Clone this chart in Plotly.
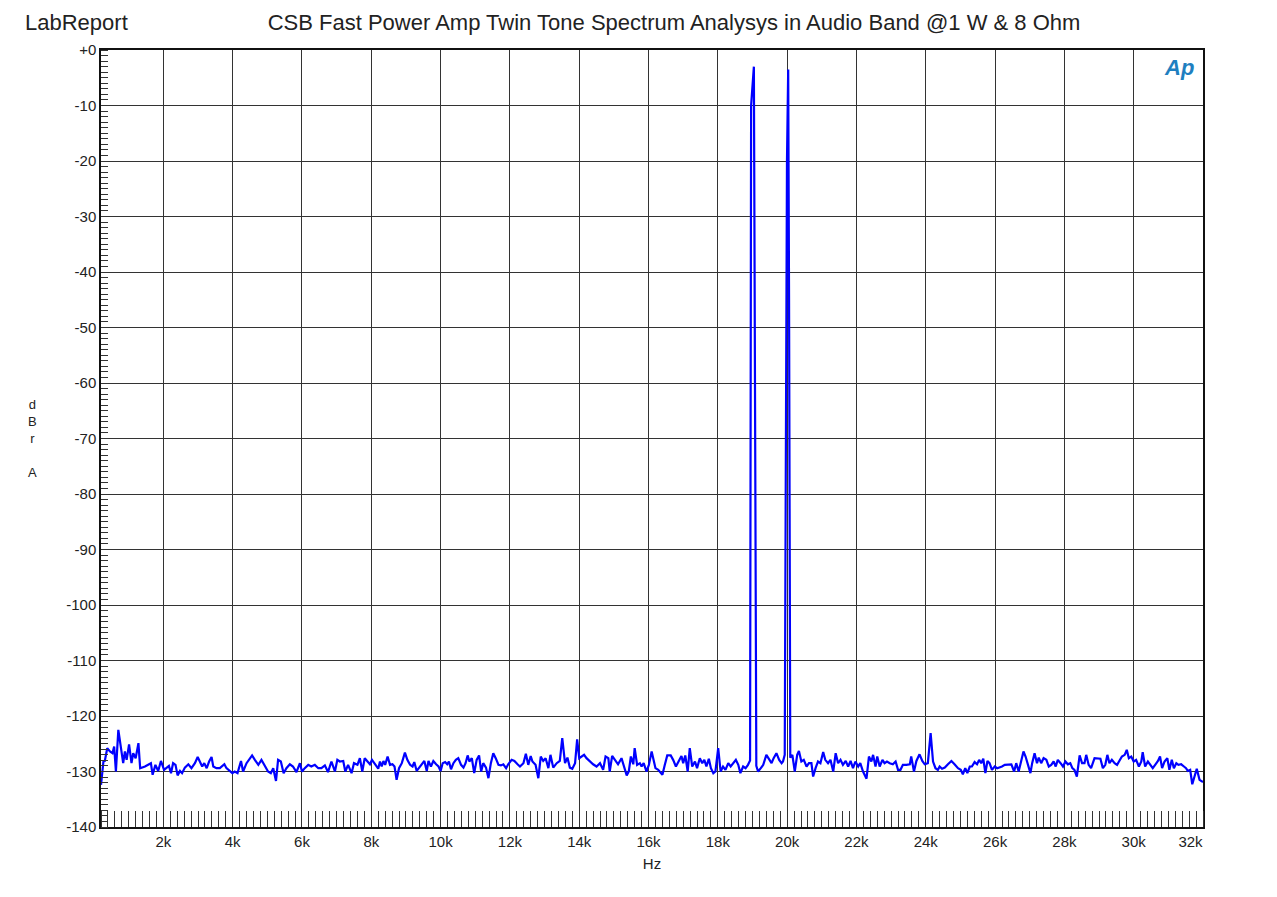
import plotly.graph_objects as go

# noise floor, 200 Hz - 8.2 kHz
band1_hz = [200, 270, 310, 380, 460, 530, 580, 630, 700, 780,
            840, 890, 940, 1010, 1080, 1130, 1200, 1280, 1330, 1470,
            1560, 1640, 1690, 1770, 1850, 1930, 2020, 2090, 2160, 2220,
            2280, 2350, 2410, 2480, 2540, 2620, 2720, 2810, 2910, 2990,
            3050, 3120, 3180, 3250, 3320, 3390, 3440, 3530, 3630, 3760,
            3820, 3920, 3990, 4060, 4140, 4240, 4300, 4400, 4500, 4560,
            4640, 4740, 4830, 4930, 5020, 5100, 5170, 5250, 5310, 5390,
            5470, 5550, 5650, 5740, 5840, 5940, 6000, 6080, 6180, 6270,
            6370, 6470, 6560, 6660, 6750, 6850, 6950, 7020, 7090, 7190,
            7250, 7330, 7430, 7500, 7600, 7670, 7740, 7810, 7890, 7960,
            8020, 8120, 8200]
band1_db = [-132.4, -128.2, -128.1, -125.8, -126.4, -126.7, -125.5, -130.0, -122.5, -125.8,
            -128.5, -126.4, -127.9, -125.1, -128.5, -126.7, -127.6, -124.9, -129.4, -129.1,
            -128.7, -128.5, -130.6, -128.8, -129.9, -128.1, -129.7, -129.4, -129.0, -130.3,
            -128.5, -128.8, -130.7, -129.9, -130.3, -129.3, -128.7, -129.4, -128.5, -127.4,
            -128.2, -129.1, -128.5, -129.4, -128.2, -127.4, -129.1, -129.4, -129.4, -128.7,
            -129.4, -130.0, -130.3, -130.0, -130.3, -128.1, -130.0, -128.5, -127.5, -127.1,
            -127.9, -128.8, -127.9, -129.1, -130.0, -130.3, -129.4, -131.7, -127.9, -128.2,
            -130.3, -129.4, -128.7, -129.1, -130.1, -128.5, -130.0, -129.4, -128.8, -129.1,
            -128.8, -129.4, -129.4, -128.9, -130.1, -128.2, -130.0, -127.9, -128.2, -128.1,
            -130.0, -128.8, -130.3, -128.5, -128.8, -127.6, -130.0, -127.6, -128.1, -128.7,
            -127.9, -128.8, -129.5]

# noise floor, 8.2 kHz - 16.1 kHz
band2_hz = [8250, 8300, 8350, 8400, 8470, 8540, 8610, 8670, 8730, 8800,
            8880, 8970, 9040, 9120, 9190, 9240, 9310, 9380, 9450, 9530,
            9600, 9650, 9720, 9790, 9870, 9940, 10000, 10060, 10130, 10190,
            10240, 10300, 10370, 10440, 10510, 10590, 10660, 10720, 10780, 10830,
            10900, 10970, 11040, 11110, 11170, 11230, 11310, 11380, 11450, 11520,
            11590, 11670, 11740, 11810, 11890, 11950, 12050, 12130, 12220, 12290,
            12390, 12460, 12530, 12600, 12650, 12740, 12820, 12890, 12960, 13030,
            13110, 13170, 13250, 13350, 13440, 13510, 13590, 13660, 13730, 13800,
            13880, 13940, 14000, 14070, 14140, 14210, 14310, 14400, 14500, 14600,
            14690, 14760, 14840, 14880, 14950, 15030, 15120, 15220, 15300, 15370,
            15430, 15490, 15560, 15600, 15670, 15750, 15800, 15860, 15940, 16010,
            16090]
band2_db = [-128.2, -129.1, -128.1, -128.8, -127.3, -128.8, -128.7, -129.1, -131.5, -129.4,
            -128.5, -126.6, -127.9, -128.8, -129.1, -128.3, -129.9, -129.3, -128.7, -128.1,
            -129.9, -128.1, -129.1, -128.1, -128.7, -129.1, -129.9, -128.5, -128.3, -128.7,
            -128.2, -129.6, -128.5, -127.9, -127.6, -128.8, -129.3, -128.5, -127.1, -128.2,
            -127.6, -130.3, -127.9, -127.1, -130.0, -128.5, -129.3, -131.2, -128.5, -126.7,
            -127.6, -128.8, -128.9, -128.7, -129.4, -128.7, -127.9, -128.1, -128.7, -129.1,
            -128.5, -126.8, -128.8, -127.2, -128.2, -128.8, -131.2, -127.3, -128.1, -127.6,
            -129.4, -127.0, -129.3, -128.5, -128.1, -124.0, -128.5, -127.5, -129.3, -129.5,
            -128.5, -124.2, -127.6, -127.3, -127.0, -127.6, -128.2, -128.7, -129.1, -128.5,
            -129.7, -127.3, -127.6, -130.0, -127.2, -127.9, -128.7, -127.6, -129.1, -130.7,
            -130.0, -127.3, -128.7, -125.8, -128.8, -128.5, -129.1, -128.5, -130.0, -128.8,
            -126.4]

# noise floor up to the first tone
band3_hz = [16200, 16280, 16330, 16400, 16470, 16540, 16640, 16710, 16790, 16880,
            16950, 17000, 17060, 17130, 17190, 17260, 17340, 17400, 17480, 17550,
            17610, 17670, 17740, 17800, 17870, 17930, 18010, 18080, 18150, 18220,
            18300, 18370, 18440, 18520, 18590, 18650, 18730, 18800, 18870]
band3_db = [-129.4, -129.7, -130.0, -130.6, -128.8, -127.1, -127.1, -127.9, -129.1, -127.9,
            -127.2, -128.5, -127.1, -130.0, -125.8, -129.1, -128.2, -129.4, -127.6, -128.5,
            -127.9, -129.1, -127.7, -129.4, -130.3, -130.0, -125.8, -130.0, -129.1, -129.7,
            -128.5, -129.1, -128.5, -127.9, -128.8, -130.3, -129.1, -129.4, -128.8]

# 19 kHz tone
tone1_hz = [18930, 18960, 19040, 19110]
tone1_db = [-128.0, -10.0, -3.0, -129.0]

# between the tones
band4_hz = [19160, 19240, 19310, 19400, 19470, 19550, 19610, 19690, 19770, 19840, 19880]
band4_db = [-130.0, -129.4, -128.8, -127.0, -127.6, -128.5, -127.6, -126.7, -127.9, -128.5, -128.2]

# 20 kHz tone
tone2_hz = [19930, 19995, 20030, 20055, 20090]
tone2_db = [-127.0, -20.0, -3.5, -45.0, -127.5]

# noise floor, 20.1 kHz - 24.1 kHz
band5_hz = [20150, 20220, 20290, 20340, 20410, 20480, 20560, 20630, 20700, 20750,
            20820, 20890, 20960, 21040, 21100, 21180, 21250, 21330, 21400, 21470,
            21540, 21610, 21690, 21760, 21830, 21900, 21970, 22050, 22110, 22190,
            22290, 22360, 22430, 22480, 22550, 22600, 22670, 22750, 22810, 22880,
            22960, 23050, 23130, 23200, 23270, 23340, 23440, 23540, 23580, 23660,
            23730, 23820, 23900, 23970, 24060]
band5_db = [-127.0, -130.0, -127.0, -126.3, -128.2, -127.9, -129.1, -128.5, -128.5, -130.9,
            -129.4, -128.2, -128.5, -126.5, -127.9, -128.5, -127.9, -130.0, -126.7, -128.5,
            -127.9, -128.8, -128.1, -129.1, -128.1, -129.4, -128.2, -129.1, -128.5, -130.0,
            -131.3, -127.3, -128.2, -127.0, -129.1, -127.3, -129.1, -127.9, -128.5, -128.2,
            -128.5, -128.7, -128.2, -129.7, -129.7, -128.8, -128.8, -128.7, -127.3, -130.0,
            -128.1, -126.9, -128.1, -128.7, -128.5]

# noise floor, 24.1 kHz - 32 kHz
band6_hz = [24140, 24210, 24280, 24350, 24400, 24470, 24550, 24640, 24740, 24830,
            24930, 25010, 25070, 25140, 25200, 25270, 25330, 25410, 25480, 25540,
            25600, 25660, 25720, 25780, 25840, 25910, 25990, 26060, 26130, 26200,
            26280, 26370, 26470, 26550, 26610, 26680, 26760, 26820, 26880, 26950,
            27020, 27070, 27140, 27210, 27260, 27330, 27400, 27480, 27550, 27620,
            27690, 27750, 27810, 27890, 27960, 28030, 28100, 28170, 28230, 28290,
            28360, 28440, 28510, 28580, 28630, 28700, 28770, 28870, 28970, 29040,
            29110, 29180, 29240, 29300, 29370, 29450, 29520, 29590, 29660, 29740,
            29800, 29860, 29930, 30000, 30070, 30150, 30220, 30260, 30330, 30410,
            30480, 30550, 30630, 30700, 30760, 30820, 30890, 30970, 31030, 31100,
            31160, 31230, 31290, 31370, 31450, 31510, 31560, 31630, 31690, 31750,
            31820, 31900, 31960, 32000]
band6_db = [-123.1, -128.2, -129.4, -129.7, -129.1, -129.5, -129.3, -128.7, -128.1, -128.7,
            -129.4, -129.7, -130.5, -129.4, -130.3, -129.1, -129.1, -128.3, -128.7, -127.9,
            -128.5, -127.7, -130.3, -128.1, -128.5, -129.7, -129.1, -129.4, -129.3, -129.1,
            -128.8, -128.7, -128.7, -130.0, -128.5, -130.0, -127.7, -126.4, -127.3, -128.8,
            -130.3, -128.5, -126.7, -128.5, -127.5, -128.5, -127.6, -127.9, -129.1, -128.8,
            -128.2, -129.1, -127.9, -128.5, -129.1, -128.2, -128.7, -128.5, -129.4, -129.7,
            -130.9, -127.1, -128.5, -128.5, -127.0, -128.8, -129.4, -127.6, -127.6, -127.7,
            -129.4, -128.8, -127.0, -128.5, -127.9, -128.5, -128.8, -127.9, -127.3, -127.0,
            -126.1, -127.6, -127.3, -128.2, -127.9, -129.1, -128.2, -126.5, -129.1, -128.2,
            -128.7, -129.4, -128.7, -128.1, -127.3, -129.4, -128.2, -127.6, -129.7, -127.9,
            -129.4, -128.5, -128.8, -128.7, -129.1, -129.4, -129.9, -129.7, -132.3, -130.9,
            -129.5, -131.5, -131.8, -131.9]

y_ticks = list(range(0, -141, -10))
y_labels = ["+0"] + [str(v) for v in y_ticks[1:]]
x_ticks = list(range(2000, 32001, 2000))
x_labels = [f"{v // 1000}k" for v in x_ticks]
x_labels[-1] = "32k" + "\u00a0" * 6   # AP pulls the edge label inside

parts = [(band1_hz, band1_db), (band2_hz, band2_db), (band3_hz, band3_db),
         (tone1_hz, tone1_db), (band4_hz, band4_db), (tone2_hz, tone2_db),
         (band5_hz, band5_db), (band6_hz, band6_db)]
freq, level = [], []
for hz, db in parts:
    assert len(hz) == len(db), (hz[0], len(hz), len(db))
    freq += hz
    level += db

FONT = "Arial, Liberation Sans, sans-serif"

# page body has an 8px margin, so the figure is a bit smaller than the window
fig = go.Figure()
fig.add_trace(go.Scatter(x=freq, y=level, mode="lines",
                         line=dict(color="#0000ff", width=2.2)))

fig.update_layout(
    width=1269, height=889,
    margin=dict(l=93, r=74, t=42, b=70),
    paper_bgcolor="white", plot_bgcolor="white",
    showlegend=False,
    font=dict(family=FONT, size=15, color="#222"),
    title=dict(text="CSB Fast Power Amp Twin Tone Spectrum Analysys in Audio Band @1 W & 8 Ohm",
               x=666 / 1269, xref="container", xanchor="center",
               y=1 - 14 / 889, yref="container", yanchor="middle",
               font=dict(family=FONT, size=22, color="#222")),
)

fig.update_xaxes(
    range=[200, 32000], tickmode="array", tickvals=x_ticks, ticktext=x_labels,
    showgrid=True, gridcolor="#333", gridwidth=1.2,
    showline=True, linecolor="#111", linewidth=1.5, mirror=True,
    ticks="", zeroline=False,
    minor=dict(tickmode="linear", tick0=0, dtick=200, ticks="inside",
               ticklen=16, tickwidth=1.2, tickcolor="#333", showgrid=False),
    title=dict(text="Hz", standoff=10, font=dict(size=15)),
)
fig.update_yaxes(
    range=[-140, 0], tickmode="array", tickvals=y_ticks, ticktext=y_labels,
    showgrid=True, gridcolor="#333", gridwidth=1.2,
    showline=True, linecolor="#111", linewidth=1.5, mirror=True,
    ticks="", zeroline=False,
    minor=dict(tickmode="linear", tick0=0, dtick=1, ticks="inside",
               ticklen=7, tickwidth=1.2, tickcolor="#333", showgrid=False),
)

fig.add_annotation(text="LabReport", xref="paper", yref="paper",
                   x=-0.0707, y=1.036, xanchor="left", yanchor="middle",
                   showarrow=False, font=dict(family=FONT, size=22, color="#222"))
fig.add_annotation(text="d<br>B<br>r<br><br>A", xref="paper", yref="paper",
                   x=-0.0625, y=0.5, xanchor="center", yanchor="middle",
                   showarrow=False, font=dict(family=FONT, size=13, color="#222"))
fig.add_annotation(text="<b><i>Ap</i></b>", xref="paper", yref="paper",
                   x=0.978, y=0.978, xanchor="center", yanchor="middle",
                   showarrow=False, font=dict(family=FONT, size=22, color="#1f7fc0"))

fig.write_html("out.html")
